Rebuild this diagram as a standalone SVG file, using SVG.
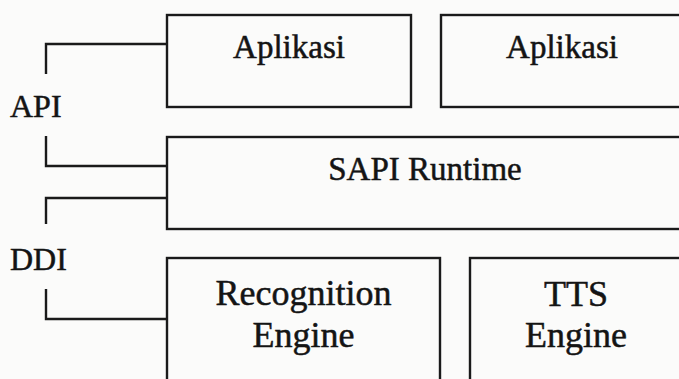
<svg xmlns="http://www.w3.org/2000/svg" width="679" height="379" viewBox="0 0 679 379">
  <style>
    .box { fill: none; stroke: #1a1a1a; stroke-width: 2.4; }
    .wire { fill: none; stroke: #1a1a1a; stroke-width: 2.4; }
    .lbl { font-family: "Liberation Serif", "Times New Roman", serif; fill: #141414; stroke: #141414; stroke-width: 0.5; text-anchor: middle; }
    .side { font-family: "Liberation Serif", "Times New Roman", serif; fill: #141414; stroke: #141414; stroke-width: 0.5; font-size: 32px; }
  </style>
  <rect width="679" height="379" fill="#fbfbfa"/>

  <!-- layer labels -->
  <text class="side" x="10" y="117">API</text>
  <text class="side" x="10" y="270">DDI</text>

  <!-- brackets joining the layer labels to the boxes -->
  <g id="connectors">
    <path class="wire" d="M167 44 H46 V74"/>
    <path class="wire" d="M46 136 V166 H167"/>
    <path class="wire" d="M167 198 H46 V224"/>
    <path class="wire" d="M46 289 V319 H167"/>
  </g>

  <g id="app1">
    <rect class="box" x="167" y="15" width="244" height="92"/>
    <text class="lbl" x="289" y="58" font-size="33">Aplikasi</text>
  </g>
  <g id="app2">
    <rect class="box" x="441" y="15" width="242" height="92"/>
    <text class="lbl" x="562" y="58" font-size="33">Aplikasi</text>
  </g>
  <g id="sapi-runtime">
    <rect class="box" x="167" y="137" width="515" height="92"/>
    <text class="lbl" x="425" y="180" font-size="33">SAPI Runtime</text>
  </g>
  <g id="recognition-engine">
    <rect class="box" x="167" y="258" width="273" height="130"/>
    <text class="lbl" x="303.5" y="305" font-size="36">Recognition</text>
    <text class="lbl" x="303.5" y="347" font-size="36">Engine</text>
  </g>
  <g id="tts-engine">
    <rect class="box" x="470" y="258" width="212" height="130"/>
    <text class="lbl" x="576" y="306" font-size="36">TTS</text>
    <text class="lbl" x="576" y="347" font-size="36">Engine</text>
  </g>
</svg>
